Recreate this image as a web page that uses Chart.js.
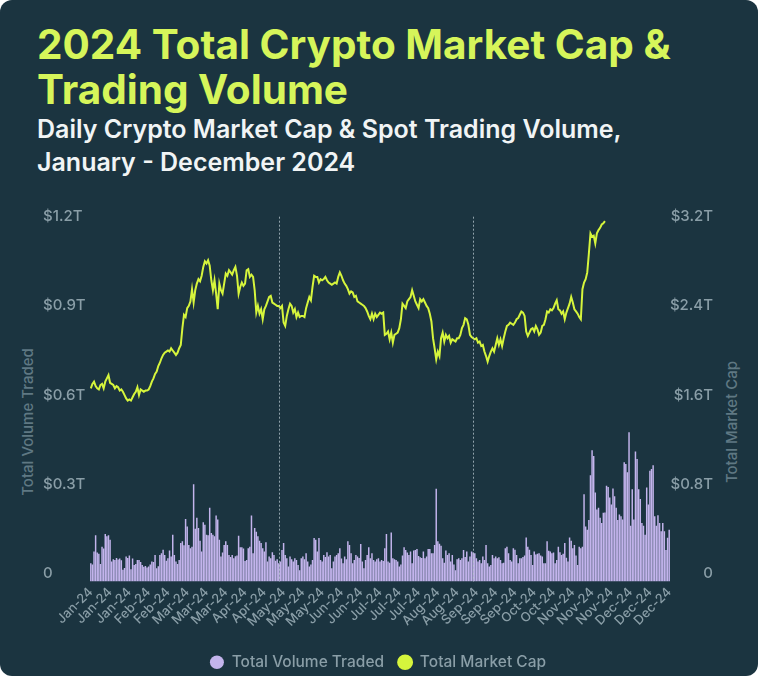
<!DOCTYPE html>
<html>
<head>
<meta charset="utf-8">
<script src="https://cdn.jsdelivr.net/npm/chart.js@4.4.1/dist/chart.umd.min.js"></script>
<style>
  html, body { margin: 0; padding: 0; background: #ffffff; }
  #card { position: relative; width: 758px; height: 676px; background: #1b3440; border-radius: 12px; overflow: hidden; font-family: Inter, sans-serif; }
  #title { position: absolute; left: 37px; top: 22px; font-weight: 700; font-size: 40.5px; line-height: 45px; color: #d6f55a; white-space: nowrap; }
  #sub { position: absolute; left: 37px; top: 113px; font-weight: 600; font-size: 25px; line-height: 33px; color: #f1f4f5; white-space: nowrap; }
  .at { position: absolute; font-weight: 500; font-size: 15px; color: #5f7883; white-space: nowrap; transform: translate(-50%, -50%) rotate(-90deg); }
  #wrap { position: absolute; left: 0; top: 190px; width: 758px; height: 490px; }
</style>
</head>
<body>
<div id="card">
  <div id="title">2024 Total Crypto Market Cap &amp;<br>Trading Volume</div>
  <div id="sub">Daily Crypto Market Cap &amp; Spot Trading Volume,<br>January - December 2024</div>
  <div class="at" style="left:27px; top:422px;">Total Volume Traded</div>
  <div class="at" style="left:731px; top:422px;">Total Market Cap</div>
  <div id="wrap"><canvas id="c" width="758" height="490"></canvas></div>
</div>
<script>
// ---- categories (daily, starting date) ----
const startDate = '2024-01-06';
const dayCount = 361;

// ---- x tick labels (one every 12 days) ----
const xTickStep = 12;
const xTickLabels = ['Jan-24','Jan-24','Jan-24','Feb-24','Feb-24','Mar-24','Mar-24','Mar-24','Apr-24','Apr-24',
  'May-24','May-24','May-24','Jun-24','Jun-24','Jul-24','Jul-24','Jul-24','Aug-24','Aug-24',
  'Sep-24','Sep-24','Sep-24','Oct-24','Oct-24','Nov-24','Nov-24','Nov-24','Dec-24','Dec-24','Dec-24'];

// ---- y tick values / labels ----
const volTickValues = [0, 300, 600, 900, 1200];          // $B
const volTickLabels = ['0', '$0.3T', '$0.6T', '$0.9T', '$1.2T'];
const capTickValues = [0, 0.8, 1.6, 2.4, 3.2];            // $T
const capTickLabels = ['0', '$0.8T', '$1.6T', '$2.4T', '$3.2T'];

// ---- daily spot trading volume, $B ----
const volumeB = [
  34,30,74,128,70,66,32,90,84,133,
  125,128,113,40,48,45,52,47,50,44,
  12,18,57,52,60,14,50,28,32,45,
  45,38,28,22,25,20,23,30,40,38,
  62,17,24,62,68,80,62,43,51,77,
  57,130,62,40,32,45,102,108,95,183,
  158,96,85,90,300,150,187,153,110,74,
  172,164,130,128,221,136,130,125,195,181,
  113,57,70,96,108,96,62,55,62,51,
  58,60,127,88,88,84,42,45,85,90,
  195,68,153,140,125,110,102,85,74,105,
  40,57,51,71,62,43,48,34,40,79,
  102,62,51,23,57,48,40,51,45,28,
  11,51,57,48,68,40,23,30,45,119,
  113,74,119,45,40,62,55,71,57,62,
  17,40,57,62,68,85,50,34,57,48,
  108,96,68,34,45,62,57,52,99,40,
  17,45,62,88,51,68,45,40,48,51,
  40,45,42,85,133,40,36,138,51,48,
  45,40,23,30,60,88,79,70,62,74,
  34,77,79,82,59,54,52,74,51,57,
  82,82,68,68,96,285,108,100,93,51,
  36,77,62,68,40,62,30,11,48,51,
  45,51,79,55,74,40,57,74,70,68,
  51,40,45,34,57,45,96,34,23,28,
  62,51,57,51,54,45,34,36,85,90,
  68,45,40,85,80,62,34,51,51,55,
  60,121,90,80,62,28,74,64,66,68,
  60,57,34,34,108,76,74,68,70,34,
  45,90,71,62,66,102,53,40,121,110,
  85,96,60,28,90,85,90,266,158,147,
  180,330,414,395,272,215,221,187,170,204,
  205,295,291,255,232,286,260,221,180,198,
  192,181,374,368,340,475,160,283,181,410,
  385,283,250,170,160,130,289,232,345,351,
  364,192,160,196,170,142,170,142,79,120,147
];

// ---- daily total market cap, $T ----
const marketCapT = [
  1.66,1.70,1.72,1.68,1.66,1.65,1.69,1.70,1.66,1.72,
  1.75,1.78,1.71,1.70,1.69,1.66,1.68,1.67,1.64,1.65,
  1.63,1.60,1.57,1.55,1.56,1.55,1.58,1.61,1.63,1.67,
  1.60,1.65,1.64,1.63,1.64,1.64,1.65,1.68,1.72,1.75,
  1.79,1.81,1.86,1.89,1.93,1.96,1.98,1.99,2.00,1.99,
  2.02,2.00,1.98,1.96,1.98,2.02,2.05,2.20,2.32,2.30,
  2.38,2.40,2.44,2.55,2.43,2.54,2.60,2.64,2.62,2.67,
  2.75,2.80,2.78,2.81,2.76,2.63,2.54,2.63,2.51,2.37,
  2.60,2.54,2.51,2.60,2.69,2.67,2.72,2.70,2.68,2.72,
  2.75,2.67,2.51,2.57,2.61,2.58,2.60,2.72,2.73,2.66,
  2.68,2.66,2.54,2.34,2.40,2.33,2.37,2.28,2.37,2.40,
  2.44,2.48,2.49,2.43,2.42,2.41,2.40,2.40,2.38,2.40,
  2.25,2.22,2.31,2.37,2.42,2.40,2.34,2.37,2.30,2.34,
  2.30,2.31,2.31,2.30,2.38,2.43,2.48,2.45,2.57,2.67,
  2.66,2.66,2.61,2.64,2.63,2.64,2.66,2.63,2.61,2.60,
  2.59,2.60,2.61,2.60,2.66,2.70,2.67,2.63,2.60,2.58,
  2.55,2.51,2.53,2.52,2.48,2.49,2.44,2.43,2.42,2.41,
  2.40,2.38,2.35,2.31,2.28,2.33,2.28,2.33,2.30,2.32,
  2.34,2.33,2.34,2.14,2.15,2.17,2.10,2.16,2.07,2.14,
  2.15,2.16,2.20,2.28,2.42,2.40,2.38,2.44,2.46,2.48,
  2.54,2.49,2.44,2.41,2.38,2.46,2.44,2.46,2.43,2.40,
  2.38,2.33,2.26,2.11,2.02,1.92,1.99,1.95,2.11,2.16,
  2.08,2.14,2.11,2.13,2.07,2.10,2.09,2.08,2.11,2.11,
  2.14,2.20,2.23,2.29,2.28,2.23,2.14,2.12,2.11,2.10,
  2.11,2.07,2.08,2.04,2.05,1.99,1.95,1.90,1.95,1.99,
  2.02,1.99,2.05,2.11,2.05,2.10,2.04,2.11,2.17,2.22,
  2.23,2.25,2.24,2.23,2.25,2.28,2.29,2.32,2.35,2.34,
  2.31,2.17,2.13,2.16,2.19,2.20,2.17,2.22,2.19,2.14,
  2.16,2.22,2.23,2.28,2.35,2.34,2.37,2.36,2.38,2.42,
  2.45,2.37,2.36,2.33,2.35,2.28,2.34,2.38,2.42,2.48,
  2.43,2.37,2.35,2.33,2.30,2.28,2.55,2.61,2.64,2.70,
  2.87,3.05,3.02,3.03,2.96,3.05,3.08,3.10,3.13,3.14,
  3.16
];

// ---- reference markers (category indices with dashed vertical lines) ----
const markerIndices = [117, 238];

// ---- build categories ----
const categories = [];
{
  const d0 = new Date(startDate + 'T00:00:00Z');
  for (let k = 0; k < dayCount; k++) {
    const d = new Date(d0.getTime() + k * 86400000);
    categories.push(d.toISOString().slice(0, 10));
  }
}

const volMin = -27.2;   // axis extends slightly below zero; bars start at the axis floor
const capMin = -0.0725;

const COLORS = {
  bar: '#c3b4ec',
  line: '#d6f53c',
  tick: '#8a9ea7',
  legend: '#8a9ea7',
  marker: 'rgba(185,200,208,0.75)'
};

Chart.defaults.font.family = 'Inter, sans-serif';

const markerPlugin = {
  id: 'markers',
  afterDatasetsDraw(chart) {
    const {ctx, chartArea, scales} = chart;
    const x = scales.x;
    ctx.save();
    ctx.strokeStyle = COLORS.marker;
    ctx.lineWidth = 1;
    ctx.setLineDash([2, 2]);
    markerIndices.forEach(i => {
      const px = Math.round(x.getPixelForValue(i)) + 0.5;
      ctx.beginPath();
      ctx.moveTo(px, chartArea.top);
      ctx.lineTo(px, chartArea.bottom);
      ctx.stroke();
    });
    ctx.restore();
  }
};

new Chart(document.getElementById('c'), {
  data: {
    labels: categories,
    datasets: [
      {
        type: 'bar',
        label: 'Total Volume Traded',
        data: volumeB,
        yAxisID: 'y',
        backgroundColor: COLORS.bar,
        borderWidth: 0,
        base: volMin,
        barPercentage: 0.92,
        categoryPercentage: 1
      },
      {
        type: 'line',
        label: 'Total Market Cap',
        data: marketCapT,
        yAxisID: 'y1',
        borderColor: COLORS.line,
        backgroundColor: COLORS.line,
        borderWidth: 2,
        pointRadius: 0,
        tension: 0
      }
    ]
  },
  plugins: [markerPlugin],
  options: {
    responsive: false,
    animation: false,
    layout: { padding: { top: 26.7, left: 43, right: 45, bottom: 0 } },
    plugins: {
      tooltip: { enabled: false },
      legend: {
        position: 'bottom',
        labels: {
          usePointStyle: true,
          pointStyle: 'circle',
          boxHeight: 9.5,
          pointStyleWidth: 14,
          padding: 14,
          color: COLORS.legend,
          font: { size: 15.5, weight: 500 }
        }
      }
    },
    scales: {
      x: {
        grid: { display: false },
        border: { display: false },
        afterFit(s) { s.height = 59; },
        ticks: {
          autoSkip: false,
          minRotation: 45,
          maxRotation: 45,
          padding: -5,
          color: COLORS.tick,
          font: { size: 13, weight: 500 },
          callback(value, index) {
            return index % xTickStep === 0 ? xTickLabels[index / xTickStep] : '';
          }
        }
      },
      y: {
        position: 'left',
        min: volMin,
        max: 1200,
        grid: { display: false },
        border: { display: false },
        afterFit(s) { s.width = 47; },
        afterBuildTicks(s) { s.ticks = volTickValues.map(v => ({ value: v })); },
        ticks: {
          crossAlign: 'far',
          color: COLORS.tick,
          font: { size: 15, weight: 500 },
          callback(value, index) { return volTickLabels[volTickValues.indexOf(value)]; }
        }
      },
      y1: {
        position: 'right',
        min: capMin,
        max: 3.2,
        grid: { display: false },
        border: { display: false },
        afterFit(s) { s.width = 43; },
        afterBuildTicks(s) { s.ticks = capTickValues.map(v => ({ value: v })); },
        ticks: {
          crossAlign: 'far',
          color: COLORS.tick,
          font: { size: 15, weight: 500 },
          callback(value, index) { return capTickLabels[capTickValues.indexOf(value)]; }
        }
      }
    }
  }
});
</script>
</body>
</html>
